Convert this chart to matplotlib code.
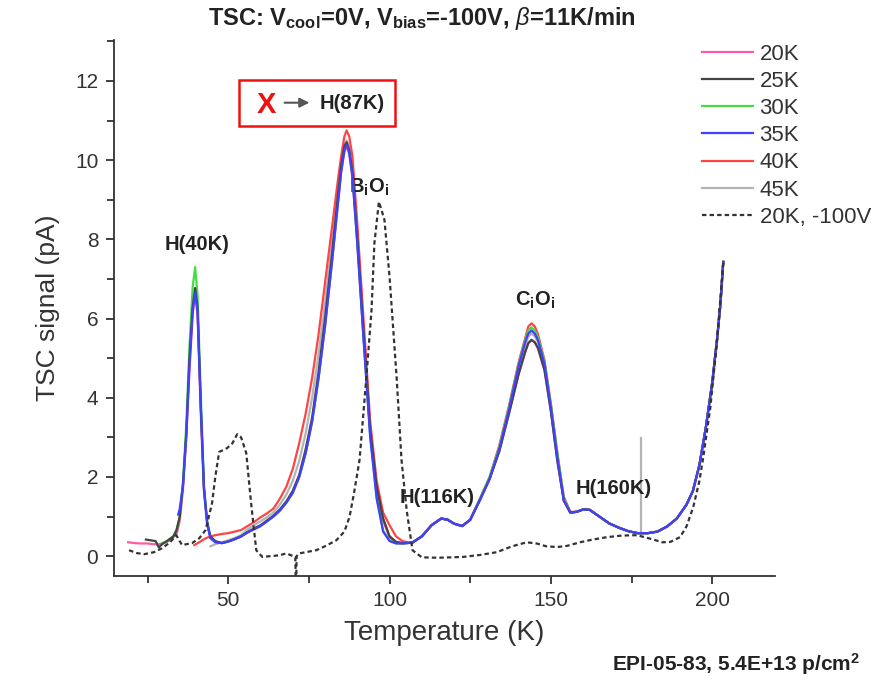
import numpy as np
import matplotlib
matplotlib.use("Agg")
import matplotlib.pyplot as plt
from matplotlib.patches import Rectangle
from matplotlib.ticker import MultipleLocator

plt.rcParams['font.family'] = ['Liberation Sans', 'DejaVu Sans']
plt.rcParams['mathtext.fontset'] = 'custom'
plt.rcParams['mathtext.rm'] = 'Liberation Sans'
plt.rcParams['mathtext.bf'] = 'Liberation Sans:bold'
plt.rcParams['mathtext.it'] = 'Liberation Sans:italic'

# data
# -------------------------

# shared temperature grid above ~44 K (all cooling temperatures overlap there)
grid_t = [44.5, 46, 48, 50, 52, 54, 56, 58, 60, 62,
          64, 66, 68, 70, 72, 74, 76, 78, 80, 82,
          84, 85, 86, 86.7, 87.5, 88.5, 90, 92, 94, 96,
          98, 100, 102, 104, 107, 110, 113, 116, 118, 120,
          122.5, 125, 128, 131, 134, 137, 140, 142, 143, 144, 145, 146,
          148, 150, 152, 154, 156, 158, 160, 162, 165, 168,
          171, 174, 177, 180, 183, 186, 189, 192, 194, 196,
          198, 200, 201.5, 202.5, 203.4]

# 20K
head_t_20 = [19, 21, 23, 25, 27, 28.5, 30, 32, 34, 35, 36, 37, 38, 39, 39.75, 40.5, 41.5, 42.5, 43.5]
head_y_20 = [0.35, 0.33, 0.32, 0.32, 0.3, 0.3, 0.33, 0.4, 0.55, 0.9, 1.7, 3.0, 4.7, 6.1, 6.6, 6.1, 3.6, 1.6, 0.8]
body_20 = [0.48, 0.37, 0.33, 0.37, 0.43, 0.5, 0.6, 0.68, 0.76, 0.88,
           1.0, 1.15, 1.35, 1.6, 2.0, 2.6, 3.4, 4.5, 5.8, 7.3,
           8.9, 9.7, 10.2, 10.35, 10.15, 9.55, 7.9, 5.45, 3.1, 1.7,
           0.9, 0.48, 0.35, 0.32, 0.34, 0.5, 0.78, 0.95, 0.92, 0.82,
           0.76, 0.92, 1.42, 1.95, 2.65, 3.6, 4.6, 5.15, 5.38, 5.46, 5.4, 5.25,
           4.7, 3.65, 2.4, 1.4, 1.1, 1.12, 1.18, 1.17, 1.0, 0.83,
           0.72, 0.63, 0.58, 0.58, 0.62, 0.75, 0.95, 1.3, 1.65, 2.3,
           3.25, 4.4, 5.5, 6.35, 7.43]

# 25K
head_t_25 = [24.5, 26, 27.5, 28.5, 29.5, 31, 33, 34, 35, 36, 37, 38, 39, 39.75, 40.5, 41.5, 42.5, 43.5]
head_y_25 = [0.42, 0.4, 0.38, 0.22, 0.3, 0.38, 0.5, 0.65, 1.0, 1.8, 3.1, 5.0, 6.3, 6.77, 6.3, 3.8, 1.7, 0.85]
body_25 = [0.5, 0.38, 0.33, 0.37, 0.43, 0.5, 0.61, 0.7, 0.78, 0.9,
           1.02, 1.18, 1.38, 1.65, 2.05, 2.7, 3.5, 4.65, 6.0, 7.5,
           9.1, 9.85, 10.35, 10.45, 10.25, 9.7, 8.05, 5.6, 3.2, 1.75,
           0.95, 0.5, 0.36, 0.33, 0.34, 0.5, 0.78, 0.95, 0.92, 0.82,
           0.76, 0.92, 1.42, 1.95, 2.65, 3.6, 4.6, 5.15, 5.38, 5.46, 5.4, 5.25,
           4.7, 3.65, 2.4, 1.4, 1.1, 1.12, 1.18, 1.17, 1.0, 0.83,
           0.72, 0.63, 0.58, 0.58, 0.62, 0.75, 0.95, 1.3, 1.65, 2.3,
           3.25, 4.4, 5.5, 6.35, 7.43]

# 30K
head_t_30 = [29.5, 31, 33, 34, 35, 36, 37, 38, 39, 39.75, 40.5, 41.5, 42.5, 43.5]
head_y_30 = [0.33, 0.38, 0.5, 0.68, 1.0, 1.9, 3.3, 5.3, 6.8, 7.3, 6.6, 4.1, 1.8, 0.85]
body_30 = [0.47, 0.36, 0.33, 0.37, 0.43, 0.5, 0.6, 0.68, 0.76, 0.88,
           1.0, 1.15, 1.35, 1.6, 2.0, 2.6, 3.4, 4.5, 5.85, 7.35,
           8.95, 9.75, 10.3, 10.42, 10.22, 9.62, 7.95, 5.45, 3.05, 1.5,
           0.65, 0.4, 0.33, 0.32, 0.34, 0.5, 0.78, 0.95, 0.92, 0.82,
           0.76, 0.92, 1.45, 2.0, 2.75, 3.75, 4.85, 5.45, 5.7, 5.78, 5.7, 5.52,
           4.9, 3.8, 2.6, 1.45, 1.1, 1.12, 1.18, 1.17, 1.0, 0.83,
           0.72, 0.63, 0.58, 0.58, 0.62, 0.75, 0.95, 1.3, 1.65, 2.3,
           3.25, 4.4, 5.5, 6.35, 7.43]

# 35K
head_t_35 = [34.5, 35, 36, 37, 38, 39, 39.75, 40.5, 41.5, 42.5, 43.5]
head_y_35 = [1.05, 1.2, 1.8, 3.0, 4.8, 6.2, 6.65, 6.2, 3.8, 1.7, 0.8]
body_35 = [0.45, 0.35, 0.33, 0.37, 0.43, 0.5, 0.6, 0.68, 0.76, 0.88,
           1.0, 1.15, 1.35, 1.6, 2.0, 2.6, 3.4, 4.5, 5.8, 7.3,
           8.9, 9.7, 10.25, 10.4, 10.2, 9.6, 7.9, 5.4, 3.0, 1.45,
           0.62, 0.38, 0.32, 0.32, 0.34, 0.5, 0.78, 0.95, 0.92, 0.82,
           0.76, 0.92, 1.42, 1.95, 2.7, 3.7, 4.8, 5.4, 5.62, 5.7, 5.62, 5.45,
           4.85, 3.75, 2.5, 1.4, 1.1, 1.12, 1.18, 1.17, 1.0, 0.83,
           0.72, 0.63, 0.58, 0.58, 0.62, 0.75, 0.95, 1.3, 1.65, 2.3,
           3.25, 4.4, 5.5, 6.35, 7.43]

# 40K
head_t_40 = [39.5, 41, 43]
head_y_40 = [0.28, 0.35, 0.45]
body_40 = [0.5, 0.53, 0.56, 0.58, 0.62, 0.66, 0.76, 0.86, 0.98, 1.08,
           1.2, 1.45, 1.75, 2.2, 2.85, 3.6, 4.5, 5.6, 6.9, 8.2,
           9.5, 10.1, 10.6, 10.75, 10.6, 10.1, 8.4, 5.9, 3.4, 1.9,
           1.1, 0.78, 0.5, 0.38, 0.33, 0.5, 0.78, 0.95, 0.92, 0.82,
           0.76, 0.92, 1.45, 2.0, 2.8, 3.8, 4.9, 5.5, 5.8, 5.88, 5.8, 5.6,
           4.95, 3.85, 2.6, 1.5, 1.12, 1.12, 1.18, 1.17, 1.0, 0.83,
           0.72, 0.63, 0.58, 0.58, 0.62, 0.75, 0.95, 1.3, 1.65, 2.3,
           3.25, 4.4, 5.5, 6.35, 7.43]

# 45K
head_t_45 = []
head_y_45 = []
body_45 = [0.25, 0.3, 0.35, 0.4, 0.46, 0.53, 0.68, 0.78, 0.88, 0.98,
           1.1, 1.3, 1.55, 1.9, 2.4, 3.1, 4.0, 5.1, 6.4, 7.8,
           9.2, 9.9, 10.4, 10.5, 10.35, 9.8, 8.15, 5.65, 3.2, 1.7,
           0.95, 0.5, 0.36, 0.33, 0.34, 0.5, 0.78, 0.95, 0.92, 0.82,
           0.76, 0.92, 1.42, 1.95, 2.7, 3.7, 4.75, 5.3, 5.54, 5.62, 5.55, 5.4,
           4.8, 3.7, 2.45, 1.4, 1.1, 1.12, 1.18, 1.17, 1.0, 0.83,
           0.72, 0.63, 0.58, 0.58, 0.62, 0.75, 0.95, 1.3, 1.65, 2.3,
           3.25, 4.4, 5.5, 6.35, 7.43]
# glitch in the 45K run
spike_t_45 = [178, 178]
spike_y_45 = [0.58, 2.98]

# 20K cooled at -100V (dashed)
ref_t = [19.3, 21.5, 24, 27, 29.5, 32, 33.9, 35.7, 38.8, 41,
         43, 44, 45, 46, 47.2, 49.7, 51.3, 52.8, 54, 55.6,
         57.1, 58.7, 60.6, 63, 65.8, 68, 70.8, 71, 71.2, 72,
         74, 77.3, 80, 83.5, 86, 87.6, 89, 90.7, 92.8, 94.4,
         95.3, 96.7, 98.4, 100, 102.2, 103.7, 105.3, 107.1, 110, 115,
         122.7, 128, 133.2, 138, 142.5, 145.6, 148.5, 151.9, 155, 159,
         163, 167.4, 172, 176.7, 181.7, 184.5, 187, 190, 192, 194.1,
         196, 197.2, 199.4, 201.5, 203.4]
ref_y = [0.15, 0.08, 0.05, 0.1, 0.2, 0.35, 0.53, 0.28, 0.33, 0.45,
         0.66, 1.0, 1.34, 2.0, 2.63, 2.73, 2.85, 3.08, 3.0, 2.6,
         1.34, 0.15, -0.02, 0.0, 0.02, 0.07, -0.02, -1.0, 0.0, 0.07,
         0.1, 0.15, 0.25, 0.4, 0.62, 0.99, 1.6, 2.43, 4.5, 6.2,
         7.9, 8.95, 8.5, 7.05, 4.5, 2.43, 1.16, 0.15, -0.03, -0.04,
         -0.02, 0.03, 0.1, 0.25, 0.35, 0.32, 0.25, 0.23, 0.26, 0.35,
         0.42, 0.48, 0.52, 0.53, 0.42, 0.35, 0.36, 0.48, 0.75, 1.24,
         1.9, 2.5, 3.76, 5.46, 7.43]

labels = ["20K", "25K", "30K", "35K", "40K", "45K"]
colors = ["#ff5aa5", "#444444", "#44dd44", "#4040ff", "#ff4444", "#b4b4b4"]
zorders = [2, 5, 4, 6, 3, 1]
heads_t = [head_t_20, head_t_25, head_t_30, head_t_35, head_t_40, head_t_45]
heads_y = [head_y_20, head_y_25, head_y_30, head_y_35, head_y_40, head_y_45]
bodies = [body_20, body_25, body_30, body_35, body_40, body_45]

# plot
# ----
fig = plt.figure(figsize=(8.74, 6.8), dpi=100)
ax = fig.add_axes([0.130, 0.153, 0.757, 0.788])

for lab, col, zo, ht, hy, bd in zip(labels, colors, zorders, heads_t, heads_y, bodies):
    t = np.concatenate([ht, grid_t])
    y = np.concatenate([hy, bd])
    ax.plot(t, y, color=col, lw=1.6, label=lab, zorder=zo)
ax.plot(spike_t_45, spike_y_45, color=colors[5], lw=1.6, zorder=1)

ax.plot(ref_t, ref_y, color="#333333", lw=1.6, ls=(0, (2, 1.4)),
        label="20K, -100V", zorder=7)

ax.set_xlim(14.5, 219.5)
ax.set_ylim(-0.5, 13.03)
ax.xaxis.set_major_locator(MultipleLocator(50))
ax.xaxis.set_minor_locator(MultipleLocator(25))
ax.yaxis.set_major_locator(MultipleLocator(2))
ax.yaxis.set_minor_locator(MultipleLocator(1))
ax.spines['top'].set_visible(False)
ax.spines['right'].set_visible(False)
for s in ['left', 'bottom']:
    ax.spines[s].set_color("#333333")
    ax.spines[s].set_linewidth(1.3)
ax.tick_params(which='both', direction='out', color="#333333", width=1.3,
               labelsize=15, labelcolor="#333333")
ax.tick_params(which='major', length=6, pad=5)
ax.tick_params(which='minor', length=5)
ax.xaxis.set_minor_formatter(plt.NullFormatter())

ax.set_xlabel("Temperature (K)", fontsize=20, color="#333333", labelpad=7)
ax.set_ylabel("TSC signal (pA)", fontsize=19, color="#333333", labelpad=11)

# annotations
bold = dict(fontsize=14.5, fontweight='bold', color="#222222", ha='center', va='center')
ax.text(40.4, 7.86, "H(40K)", **bold)
ax.text(93.5, 9.32, r"B$_\mathbf{i}$O$_\mathbf{i}$", **bold)
ax.text(145, 6.47, r"C$_\mathbf{i}$O$_\mathbf{i}$", **bold)
ax.text(114.6, 1.49, "H(116K)", **bold)
ax.text(169.3, 1.72, "H(160K)", **bold)

ax.add_patch(Rectangle((53.4, 10.86), 48.2, 1.17, fill=False, edgecolor="#ee1111",
                       lw=1.8, clip_on=False, zorder=8))
ax.text(61.8, 11.40, "X", fontsize=21, fontweight='bold', color="#ee1111",
        ha='center', va='center')
ax.annotate("", xy=(76.0, 11.45), xytext=(66.6, 11.45),
            arrowprops=dict(arrowstyle="-|>", color="#555555", lw=1.5, mutation_scale=14))
ax.text(88.4, 11.42, "H(87K)", **bold)

fig.text(0.483, 0.973, r"TSC: V$_\mathbf{cool}$=0V, V$_\mathbf{bias}$=-100V, $\beta$=11K/min",
         fontsize=17, fontweight='bold', color="#222222", ha='center', va='center')
fig.text(612 / 874, 1 - 664 / 680, "EPI-05-83, 5.4E+13 p/cm$^\mathbf{2}$",
         fontsize=15, fontweight='bold', color="#222222", ha='left', va='center')

leg = ax.legend(loc='upper left', bbox_to_anchor=(0.803, 0.936),
                bbox_transform=fig.transFigure, fontsize=16, frameon=False,
                handlelength=2.3, handletextpad=0.3, labelspacing=0.28,
                borderpad=0, borderaxespad=0)
for txt in leg.get_texts():
    txt.set_color("#333333")

fig.savefig("out.png", dpi=100)
